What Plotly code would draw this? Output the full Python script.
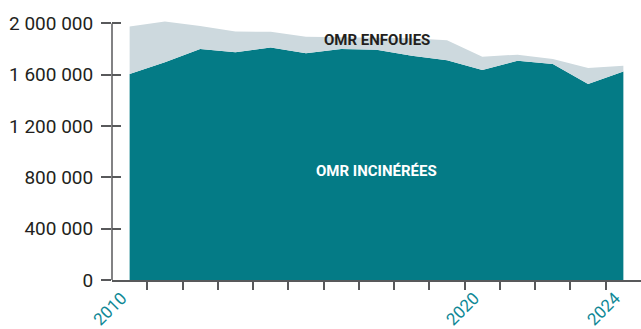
import plotly.graph_objects as go

# Tonnages of residual household waste (OMR) by treatment route
years = list(range(2010, 2025))
omr_incinerees = [1606000, 1697000, 1801000, 1775000, 1812000, 1767000, 1801000, 1796000,
                  1749000, 1714000, 1637000, 1710000, 1684000, 1528000, 1626000]
omr_enfouies = [371000, 319000, 179000, 163000, 123000, 130000, 92000, 93000,
                136000, 156000, 104000, 47000, 39000, 125000, 45000]

y_tick_vals = [0, 400000, 800000, 1200000, 1600000, 2000000]
y_tick_text = ["0", "400 000", "800 000", "1 200 000", "1 600 000", "2 000 000"]
x_label_years = [2010, 2020, 2024]
x_tick_marks = [y + 0.5 for y in years[:-1]]

TEAL = "#047b86"
LIGHT = "#cdd9de"
AXIS = "#58595b"
TEXT = "#231f20"
YEAR = "#0e8896"
FONT = "Roboto"

x_range = [2009.5, 2024.5]
y_range = [0, 2035000]

fig = go.Figure()
fig.add_trace(go.Scatter(
    x=years, y=omr_incinerees, stackgroup="omr", mode="none",
    fillcolor=TEAL, name="OMR incinérées", hoverinfo="skip",
))
fig.add_trace(go.Scatter(
    x=years, y=omr_enfouies, stackgroup="omr", mode="none",
    fillcolor=LIGHT, name="OMR enfouies", hoverinfo="skip",
))

fig.update_layout(
    width=641, height=329,
    margin=dict(l=112, r=0, t=19, b=49, autoexpand=False),
    paper_bgcolor="white", plot_bgcolor="white",
    showlegend=False,
    font=dict(family=FONT, color=TEXT),
    xaxis=dict(
        range=x_range, showgrid=False, zeroline=False, automargin=False,
        showline=True, linecolor=AXIS, linewidth=1.5,
        tickmode="array", tickvals=x_tick_marks, showticklabels=False,
        ticks="outside", ticklen=8, tickwidth=1.5, tickcolor=AXIS,
    ),
    xaxis2=dict(
        range=x_range, overlaying="x", matches="x", side="bottom",
        showgrid=False, zeroline=False, showline=False, ticks="", automargin=False,
        tickmode="array", tickvals=x_label_years,
        ticktext=[str(y) for y in x_label_years],
        tickangle=-45, tickfont=dict(family=FONT, size=17, color=YEAR),
        ticklabelstandoff=4, ticklabelshift=-8,
    ),
    yaxis=dict(
        range=y_range, showgrid=False, zeroline=False, showline=False, automargin=False,
        tickmode="array", tickvals=y_tick_vals, ticktext=y_tick_text,
        ticks="outside", ticklen=10, tickwidth=1.5, tickcolor=AXIS,
        tickfont=dict(family=FONT, size=19, color=TEXT),
        ticklabelstandoff=4,
    ),
    yaxis2=dict(
        range=y_range, overlaying="y", matches="y", side="left", automargin=False,
        showgrid=False, zeroline=False, showline=False, showticklabels=False,
        tickmode="array", tickvals=y_tick_vals,
        ticks="inside", ticklen=9, tickwidth=1.5, tickcolor=AXIS,
    ),
    shapes=[dict(
        type="line", xref="paper", yref="y", x0=0, x1=0,
        y0=y_tick_vals[0], y1=y_tick_vals[-1],
        line=dict(color=AXIS, width=1.5), layer="above",
    )],
    annotations=[
        dict(x=2017, y=1874000, xref="x", yref="y", text="<b>OMR ENFOUIES</b>",
             showarrow=False, font=dict(family=FONT, size=15, color=TEXT)),
        dict(x=2017, y=852000, xref="x", yref="y", text="<b>OMR INCINÉRÉES</b>",
             showarrow=False, font=dict(family=FONT, size=15, color="white")),
    ],
)

# invisible traces so the overlay axes are rendered
fig.add_trace(go.Scatter(x=[years[0]], y=[0], xaxis="x2", yaxis="y2",
                         mode="markers", marker=dict(opacity=0), hoverinfo="skip"))

fig.write_html("out.html")
